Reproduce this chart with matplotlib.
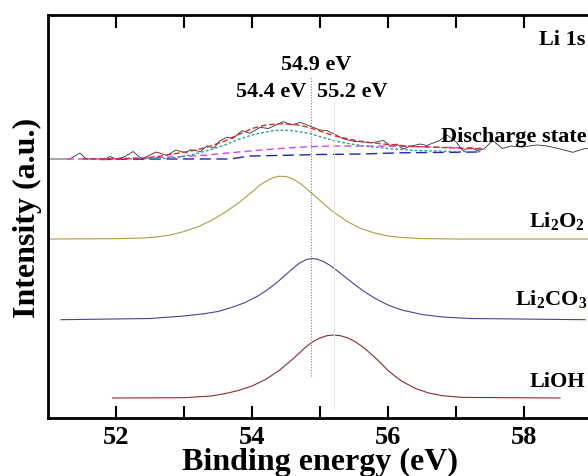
import matplotlib
matplotlib.use('Agg')
import matplotlib.pyplot as plt

plt.rcParams['font.family'] = 'Liberation Serif'
plt.rcParams['font.weight'] = 'bold'
plt.rcParams['mathtext.fontset'] = 'custom'
plt.rcParams['mathtext.rm'] = 'Liberation Serif:bold'
plt.rcParams['mathtext.bf'] = 'Liberation Serif:bold'
plt.rcParams['mathtext.it'] = 'Liberation Serif:bold'

# discharge state, raw spectrum (binding energy in eV, intensity a.u.)
raw_x = [51.00, 51.32, 51.47, 51.56, 51.84, 51.91, 52.00, 52.12, 52.25, 52.38, 52.59, 52.75,
         52.88, 53.03, 53.09, 53.24, 53.34, 53.44, 53.53, 53.63, 53.72, 53.85, 53.97, 54.12,
         54.24, 54.46, 54.59, 54.71, 54.85, 55.00, 55.10, 55.25, 55.35, 55.51, 55.78, 55.93,
         56.03, 56.13, 56.22, 56.32, 56.47, 56.57, 56.76, 56.87, 57.01, 57.10, 57.21, 57.31,
         57.41, 57.54, 57.68, 57.81, 57.97, 58.19, 58.34, 58.53, 58.72, 58.87, 58.94]
raw_y = [259, 259, 265, 259, 259, 261.5, 259, 261, 266.5, 259, 266, 262.5,
         268, 265, 268.3, 266.5, 272.3, 270, 277.3, 280.7, 279.5, 287.3, 284.7, 290.7,
         289.5, 296.3, 293, 295.7, 292, 288, 287.5, 282.5, 279, 276.5, 275.5, 277.5,
         272.5, 274, 269, 271.5, 274, 272.5, 277.5, 283, 275.5, 267.5, 270.5, 267.5,
         269, 277.5, 269.5, 272, 271, 273, 272, 269, 265.7, 269, 269.5]

# fitted envelope and components
fit_x = [51.51, 52.00, 52.35, 52.60, 52.84, 53.10, 53.34, 53.60, 53.82, 54.00, 54.20, 54.41,
         54.60, 54.75, 54.96, 55.20, 55.45, 55.69, 56.00, 56.40, 56.90, 57.38]
fit_y = [259, 259.3, 259.8, 261.3, 264, 267, 270.7, 277, 284, 289.5, 293, 294.3,
         293.8, 292, 288, 282.3, 278.5, 275.7, 273.5, 271.5, 270.2, 269]
c1_x = [51.76, 52.50, 52.84, 53.10, 53.34, 53.60, 53.82, 54.05, 54.31, 54.45, 54.60, 54.85,
        55.00, 55.20, 55.45, 55.69, 56.00, 56.40, 57.00, 57.38]
c1_y = [259, 259.3, 260, 263, 267.3, 273, 279, 284, 287.3, 287.8, 287.3, 284.5,
        281.5, 277.3, 274, 271.7, 269.5, 267.5, 266.5, 266.3]
c2_x = [51.28, 51.87, 52.50, 53.00, 53.34, 53.80, 54.31, 54.70, 55.00, 55.44, 56.18, 56.80, 57.38]
c2_y = [259, 259, 260, 261.5, 263, 266, 269, 270.8, 271.7, 272, 271.7, 270.7, 269.7]
bg_x = [51.76, 52.68, 53.68, 53.97, 54.71, 55.00, 55.60, 56.18, 57.38]
bg_y = [258.5, 259, 259, 262, 263, 263.5, 264, 265.2, 266]

# reference spectra
li2o2_x = [51.03, 52.00, 52.40, 52.60, 52.80, 53.00, 53.20, 53.40, 53.60, 53.80, 54.00, 54.10,
           54.20, 54.30, 54.40, 54.50, 54.60, 54.70, 54.80, 54.90, 55.00, 55.10, 55.20, 55.40,
           55.60, 55.80, 56.00, 56.20, 56.50, 57.00, 58.94]
li2o2_y = [179, 179.3, 180, 181, 183, 186.5, 191, 197.5, 205.5, 215, 226, 232,
           236.5, 240, 241.8, 241.5, 239, 235, 229.5, 223.5, 217.5, 211.5, 206, 196.5,
           189.5, 185, 182, 180.5, 179.4, 179, 179]
li2co3_x = [51.19, 52.50, 53.00, 53.30, 53.50, 53.70, 53.90, 54.10, 54.20, 54.30, 54.40, 54.50,
            54.60, 54.70, 54.80, 54.88, 54.95, 55.05, 55.15, 55.25, 55.35, 55.50, 55.65, 55.80,
            56.00, 56.20, 56.50, 56.80, 57.20, 58.90]
li2co3_y = [98.3, 99.5, 102, 104.3, 106.5, 110.5, 115.5, 122.5, 127, 132, 137.5, 143.5,
            149.5, 155, 158.5, 159.5, 159, 156.5, 152.5, 147.5, 142, 134, 126.5, 120,
            113, 108, 103.5, 101, 99.5, 98.3]
lioh_x = [51.95, 53.00, 53.40, 53.60, 53.80, 54.00, 54.20, 54.40, 54.60, 54.80, 54.90, 55.00,
          55.10, 55.20, 55.30, 55.40, 55.50, 55.60, 55.70, 55.80, 55.90, 56.00, 56.10, 56.20,
          56.40, 56.60, 56.80, 57.10, 58.53]
lioh_y = [20, 20.3, 22, 24.3, 27.5, 32, 38.5, 47.5, 59, 71.5, 76.5, 80,
          82.3, 83, 82.3, 80.3, 77, 72.5, 67, 61, 54.5, 47.5, 42, 37,
          29.5, 25, 22.3, 20.6, 20]

peak_lines = [54.87, 55.2]
major_ticks = [52, 54, 56, 58]
minor_ticks = [53, 55, 57]

fig = plt.figure(figsize=(5.88, 4.77), dpi=100)
ax = fig.add_axes([48 / 588, 1 - 419 / 477, 544 / 588, 403 / 477])

ax.plot(raw_x, raw_y, color='#303030', lw=0.6)
ax.plot(bg_x, bg_y, color='#2020c0', lw=1.0, ls=(0, (8, 4)))
ax.plot(c2_x, c2_y, color='#e040e0', lw=1.0, ls=(0, (5, 3)))
ax.plot(c1_x, c1_y, color='#2a9d9d', lw=1.0, ls=(0, (2, 1.5)))
ax.plot(fit_x, fit_y, color='#e02828', lw=1.0, ls=(0, (4, 2)))

ax.plot(li2o2_x, li2o2_y, color='#a8a040', lw=0.8)
ax.plot(li2co3_x, li2co3_y, color='#44449a', lw=0.8)
ax.plot(lioh_x, lioh_y, color='#8b2c2c', lw=0.8)

ax.plot([peak_lines[0], peak_lines[0]], [42, 342], color='#808080', lw=0.8, ls=(0, (1, 1.5)))
ax.plot([peak_lines[1], peak_lines[1]], [9, 316], color='#e4e4e4', lw=0.7)

ts = 16
ax.text(58.90, 374, 'Li 1s', fontsize=ts, ha='right', va='baseline')
ax.text(54.94, 349, '54.9 eV', fontsize=ts, ha='center', va='baseline')
ax.text(54.80, 322.3, '54.4 eV', fontsize=ts, ha='right', va='baseline')
ax.text(54.96, 322.3, '55.2 eV', fontsize=ts, ha='left', va='baseline')
ax.text(58.92, 277.3, 'Discharge state', fontsize=ts, ha='right', va='baseline')
ax.text(58.90, 192.3, r'$\mathbf{Li_2O_2}$', fontsize=ts, ha='right', va='baseline')
ax.text(58.93, 114, r'$\mathbf{Li_2CO_3}$', fontsize=ts, ha='right', va='baseline')
ax.text(58.90, 32, 'LiOH', fontsize=ts, ha='right', va='baseline')

ax.set_xlim(51, 59)
ax.set_ylim(0, 403)
ax.set_xticks(major_ticks)
ax.set_xticks(minor_ticks, minor=True)
ax.set_yticks([])
ax.tick_params(axis='x', which='both', direction='in', top=True, length=9, width=1.5,
               labelsize=19, pad=5)
ax.spines['right'].set_visible(False)
for s in ['left', 'top', 'bottom']:
    ax.spines[s].set_linewidth(2)

ax.set_xlabel('Binding energy (eV)', fontsize=23, fontweight='bold', labelpad=-1)
ax.set_ylabel('Intensity (a.u.)', fontsize=23, fontweight='bold', labelpad=4)

fig.savefig('out.png', dpi=100)
